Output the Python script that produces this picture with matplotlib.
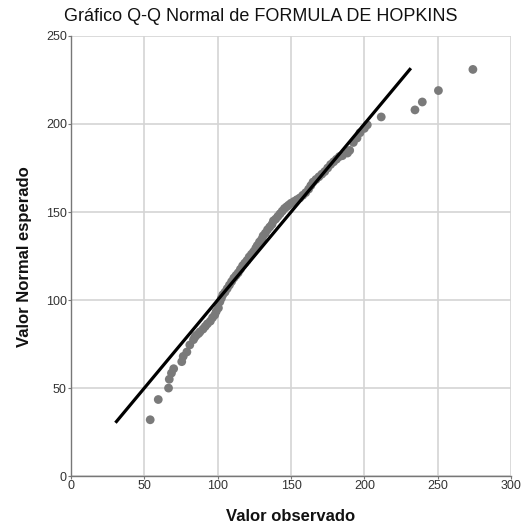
import numpy as np
import matplotlib.pyplot as plt

plt.rcParams['font.family'] = ['Liberation Sans', 'DejaVu Sans']

observado = [54, 59.5, 66.5, 67, 68.5, 70, 75.5, 76.5, 79, 81, 83.5, 84.5, 85.5,
             87, 88, 90, 91.5, 93, 95, 96.5, 98, 99, 100.5,
             101.5, 102.5, 103.5, 105, 106.5, 108, 109.5, 111, 112.5, 114,
             115.5, 117, 118.5, 120, 121.5, 123, 124.5, 126, 127, 128.5, 130,
             131, 132.5, 134, 135.5, 137, 138, 139.5, 141, 142.5, 144, 145.5,
             147, 148.5, 150, 152, 154, 156, 158, 160, 162, 163.5, 165, 167,
             169, 171, 173, 175, 177, 179, 181, 183, 185, 188.5, 190, 192.5,
             195, 197, 200, 202, 211.5, 234.5, 239.5, 250.5, 274]
esperado = [32, 43.5, 50, 55, 58.5, 61, 65, 68, 70.5, 74.5, 77.5, 79, 80,
            81, 82, 83.5, 85, 86.5, 88, 90, 91.5, 93.5, 95.5,
            99, 101, 103, 104.5, 106.5, 108.5, 110.5, 112.5, 114, 115.5,
            117.5, 119.5, 121, 122.5, 124.5, 126, 127.5, 129.5, 131, 133, 134.5,
            136.5, 138, 140, 141.5, 143, 145, 146, 147.5, 149, 150.5, 152,
            153, 154, 155, 156, 157, 158, 159.5, 161, 163, 165, 167, 168.5,
            170, 171.5, 173, 175, 177, 178.5, 180, 181.5, 182, 183.5, 185, 189.5,
            192, 195, 197.5, 199.5, 204, 208, 212.5, 219, 231]
linea = [31, 231]

xticks = [0, 50, 100, 150, 200, 250, 300]
yticks = [0, 50, 100, 150, 200, 250]

fig = plt.figure(figsize=(5.22, 5.29), dpi=100)
ax = fig.add_axes([0.136, 0.100, 0.843, 0.832])

ax.scatter(observado, esperado, s=40, color='#7a7a7a', edgecolors='none', zorder=3)
ax.plot(linea, linea, color='black', lw=2.3, zorder=4)

ax.set_xlim(0, 300)
ax.set_ylim(0, 250)
ax.set_xticks(xticks)
ax.set_yticks(yticks)
ax.grid(True, color='#d4d4d4', lw=1.2)
ax.set_axisbelow(True)
for s in ['top', 'right']:
    ax.spines[s].set_visible(False)
for s in ['left', 'bottom']:
    ax.spines[s].set_color('#777777')
    ax.spines[s].set_linewidth(1.0)
ax.tick_params(length=2, color='#777777', labelsize=9, labelcolor='#333333', pad=1)

fig.text(0.5, 0.968, 'Gráfico Q-Q Normal de FORMULA DE HOPKINS', ha='center', va='center',
         fontsize=13, color='#111111')
fig.text(0.556, 0.023, 'Valor observado', ha='center', va='center',
         fontsize=12, fontweight='bold', color='#111111')
fig.text(0.046, 0.515, 'Valor Normal esperado', ha='center', va='center', rotation=90,
         fontsize=12, fontweight='bold', color='#111111')

fig.savefig('out.png', dpi=100)
